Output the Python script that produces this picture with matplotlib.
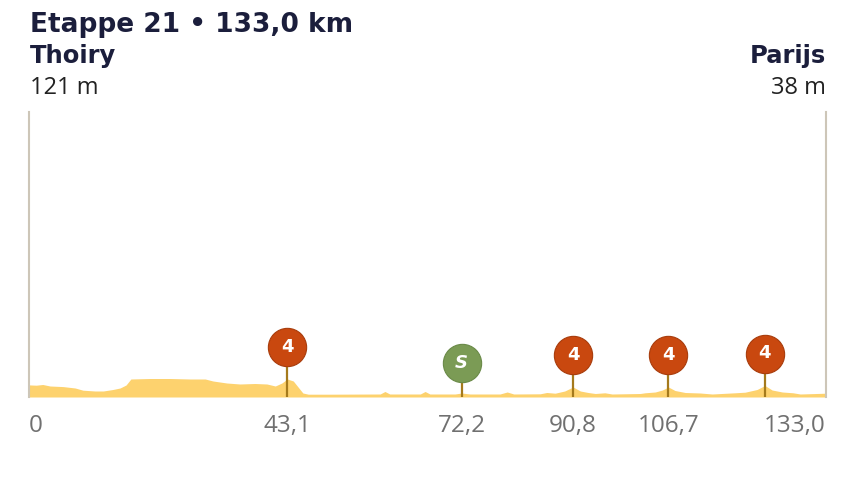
import matplotlib
matplotlib.use("Agg")
import matplotlib.pyplot as plt
from matplotlib import font_manager as fm

plt.rcParams['font.family'] = ['Open Sans', 'DejaVu Sans']


def bold_fp(size, italic=False):
    return fm.FontProperties(family='DejaVu Sans', weight='bold',
                             style='italic' if italic else 'normal', size=size)


# stage profile (km, elevation in m)
km = [0.0, 1.2, 2.3, 3.5, 5.7, 7.7, 9.0, 11.0, 12.4, 14.0, 15.2, 16.2, 17.0,
      20.2, 23.5, 26.9, 29.4, 30.7, 33.0, 35.2, 37.7, 39.7, 41.1, 42.2, 43.1,
      44.1, 44.9, 45.7, 46.6, 50.2, 58.6, 59.4, 60.2, 65.3, 66.1, 66.9, 71.1,
      72.2, 73.6, 78.6, 79.8, 80.9, 85.3, 86.4, 87.8, 89.4, 90.8, 92.0, 93.3,
      94.5, 96.1, 97.3, 102.0, 102.8, 104.5, 105.7, 106.7, 107.8, 109.5, 112.0,
      114.0, 117.8, 119.5, 121.5, 122.8, 124.0, 125.7, 127.5, 128.7, 133.0]
elev = [121, 118, 125, 110, 104, 90, 68, 60, 60, 75, 90, 120, 180,
        185, 185, 180, 180, 160, 140, 130, 135, 130, 110, 140, 180,
        160, 100, 40, 28, 28, 30, 55, 30, 30, 55, 30, 30,
        40, 30, 30, 50, 30, 32, 45, 38, 60, 100, 60, 45,
        35, 42, 30, 35, 42, 50, 70, 100, 65, 45, 40,
        30, 42, 48, 75, 115, 70, 50, 42, 30, 38]

# climbs / sprint
climb_km = [43.1, 90.8, 106.7, 122.8]
climb_elev = [180, 100, 100, 115]
climb_cat = ['4', '4', '4', '4']
sprint_km = [72.2]
sprint_elev = [40]

tick_km = [0, 43.1, 72.2, 90.8, 106.7, 133.0]
tick_lbl = ['0', '43,1', '72,2', '90,8', '106,7', '133,0']

fig = plt.figure(figsize=(8.54, 4.8), dpi=100)
ax = fig.add_axes([29 / 854, 83 / 480, 797 / 854, 285 / 480])
ax.set_xlim(0, 133.0)
ax.set_ylim(0, 2850)
ax.fill_between(km, elev, 0, color='#fdd26e', lw=0, zorder=1)
for s in ['top', 'bottom']:
    ax.spines[s].set_visible(False)
for s in ['left', 'right']:
    ax.spines[s].set_color('#cdc6b8')
    ax.spines[s].set_linewidth(1.5)
ax.set_yticks([])
ax.set_xticks(tick_km)
ax.set_xticklabels(tick_lbl, fontsize=17.5, color='#707070')
ax.tick_params(axis='x', length=0, pad=12)
lbls = ax.get_xticklabels()
lbls[0].set_ha('left')
lbls[-1].set_ha('right')

# data units per pixel in y
dpp = 2850 / 285


def draw_marker(x, y, txt, color, edge, off_px, italic=False):
    cy = y + off_px * dpp
    ax.plot([x, x], [0, cy], color='#a57a1c', lw=1.6, zorder=3,
            solid_capstyle='butt')
    ax.scatter([x], [cy], s=760, color=color, edgecolors=edge, linewidths=0.8,
               zorder=5, clip_on=False)
    ax.text(x, cy, txt, ha='center', va='center', color='white',
            fontproperties=bold_fp(13, italic), zorder=6)


for x, y, c in zip(climb_km, climb_elev, climb_cat):
    draw_marker(x, y, c, '#c9480f', '#a83c0c', 32)
for x, y in zip(sprint_km, sprint_elev):
    draw_marker(x, y, 'S', '#7b9b55', '#6a8a48', 30, italic=True)

navy = '#1b1e3c'
fig.text(30 / 854, 1 - 32 / 480, 'Etappe 21 \u2022 133,0 km',
         fontproperties=bold_fp(19), color=navy, va='baseline', ha='left')
fig.text(30 / 854, 1 - 63 / 480, 'Thoiry', fontproperties=bold_fp(17.5),
         color=navy, va='baseline', ha='left')
fig.text(30 / 854, 1 - 94 / 480, '121 m', fontsize=17, color='#222222',
         va='baseline', ha='left')
fig.text(826 / 854, 1 - 63 / 480, 'Parijs', fontproperties=bold_fp(17.5),
         color=navy, va='baseline', ha='right')
fig.text(826 / 854, 1 - 94 / 480, '38 m', fontsize=17, color='#222222',
         va='baseline', ha='right')

fig.savefig('out.png', dpi=100)
